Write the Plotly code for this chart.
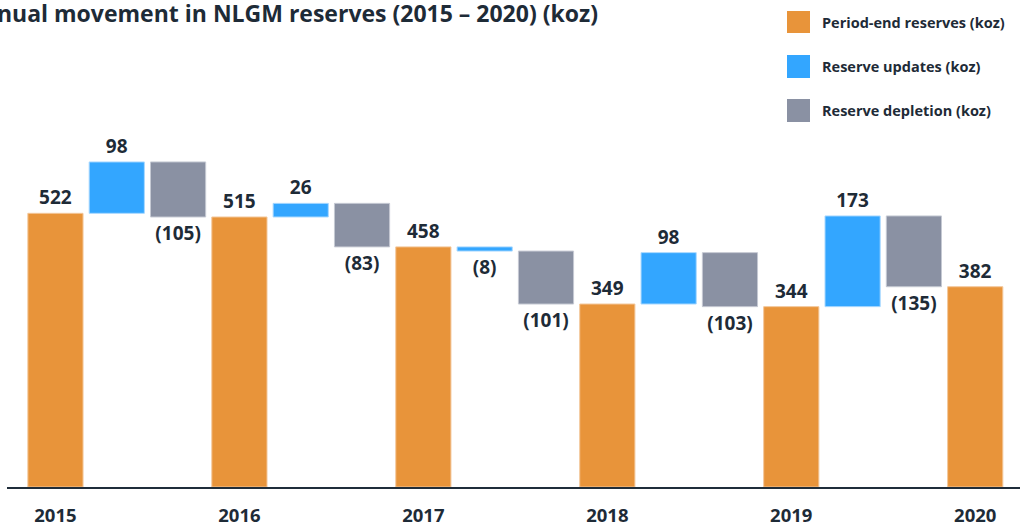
import plotly.graph_objects as go

# --- data (koz) ---
years = ["2015", "2016", "2017", "2018", "2019", "2020"]
period_end = [522, 515, 458, 349, 344, 382]
updates = [98, 26, -8, 98, 173]
depletion = [-105, -83, -101, -103, -135]

legend_names = ["Period-end reserves (koz)", "Reserve updates (koz)", "Reserve depletion (koz)"]
colors = ["#E8943A", "#33A6FF", "#8A91A3"]
edge_colors = ["#F3C79A", "#A9D8FF", "#C5C9D3"]
text_color = "#1E2B37"
font_family = "Open Sans, sans-serif"

W, H = 1022, 529
ML, MR, MT, MB = 7, 2, 120, 42


def fmt(v):
    return str(v) if v >= 0 else "(%d)" % abs(v)


# column positions: period-end, update, depletion, period-end, ...
x_end = [3 * i for i in range(len(period_end))]
x_upd = [3 * i + 1 for i in range(len(updates))]
x_dep = [3 * i + 2 for i in range(len(depletion))]

base_upd = period_end[:-1]
base_dep = [p + u for p, u in zip(period_end[:-1], updates)]

fig = go.Figure()
series = [
    (x_end, period_end, [0] * len(period_end)),
    (x_upd, updates, base_upd),
    (x_dep, depletion, base_dep),
]
for k, (xs, vals, bases) in enumerate(series):
    fig.add_trace(go.Bar(
        x=xs, y=vals, base=bases, width=0.9,
        name=legend_names[k], showlegend=False,
        marker=dict(color=colors[k], line=dict(color=edge_colors[k], width=1)),
        text=[fmt(v) for v in vals], textposition="outside", textangle=0,
        textfont=dict(family=font_family, size=19, color=text_color, weight=700),
        cliponaxis=False,
    ))

# legend drawn by hand (large square swatches)
def px_x(px):
    return (px - ML) / (W - ML - MR)


def px_y(py):
    return (H - MB - py) / (H - MT - MB)


leg_rows = [(11, 33), (55, 78), (99, 122)]
for k, (y0, y1) in enumerate(leg_rows):
    fig.add_shape(type="rect", xref="paper", yref="paper",
                  x0=px_x(787), x1=px_x(810), y0=px_y(y1), y1=px_y(y0),
                  fillcolor=colors[k], line_width=0)
    fig.add_annotation(xref="paper", yref="paper", x=px_x(820), y=px_y((y0 + y1) / 2),
                       xanchor="left", yanchor="middle", showarrow=False,
                       text=legend_names[k],
                       font=dict(family=font_family, size=14.5, color=text_color, weight=700))

fig.update_layout(
    width=W, height=H,
    margin=dict(l=ML, r=MR, t=MT, b=MB),
    paper_bgcolor="white", plot_bgcolor="white",
    barmode="overlay",
    title=dict(text="Annual movement in NLGM reserves (2015 – 2020) (koz)",
               x=598 / W, xanchor="right", y=1 - 14 / H, yanchor="middle",
               font=dict(family=font_family, size=23, color=text_color, weight=700)),
    xaxis=dict(range=[-0.79, 15.73], tickvals=x_end, ticktext=years,
               showline=True, linecolor="#1F2D3A", linewidth=2,
               showgrid=False, zeroline=False, ticks="", ticklabelstandoff=11,
               automargin=False,
               tickfont=dict(family=font_family, size=18.5, color=text_color, weight=700)),
    yaxis=dict(range=[0, 700], visible=False, automargin=False),
    showlegend=False,
)

# page body has a default 8px margin; drop it so the figure sits at the window corner
fig.write_html("out.html", config={"displayModeBar": False},
               post_script="document.body.style.margin='0';document.body.style.overflow='hidden';")
